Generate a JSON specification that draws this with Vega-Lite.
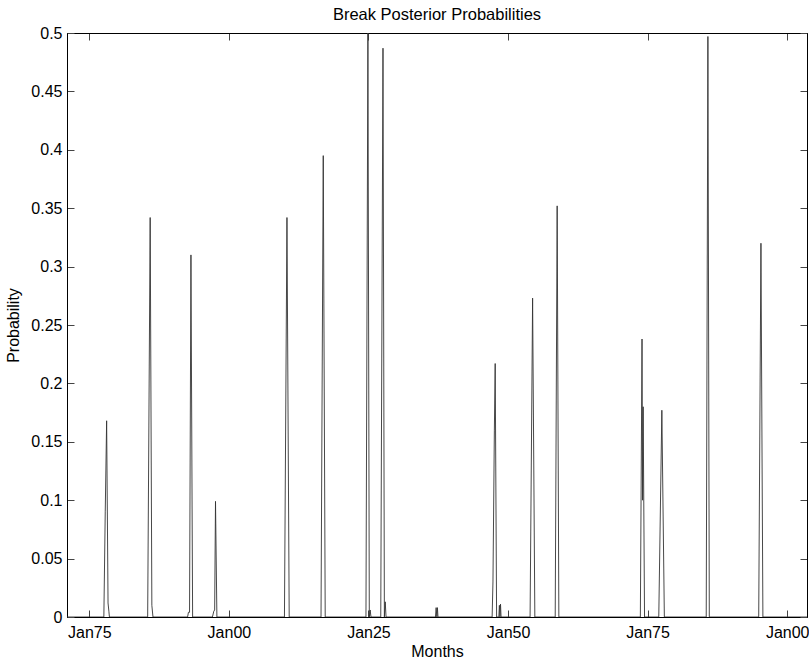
{
  "$schema": "https://vega.github.io/schema/vega-lite/v6.json",
  "width": 740,
  "height": 584,
  "autosize": {"type": "none"},
  "padding": {"left": 67, "top": 33, "right": 2, "bottom": 42},
  "background": "white",
  "title": {"text": "Break Posterior Probabilities", "font": "Liberation Sans", "fontSize": 16.5, "fontWeight": "normal", "color": "#000", "offset": 2},
  "config": {
    "view": {"stroke": "black", "strokeWidth": 1},
    "axis": {
      "domainColor": "black", "domainWidth": 1,
      "tickColor": "#444", "tickSize": -7, "tickWidth": 1,
      "grid": false,
      "labelFont": "Liberation Sans", "labelFontSize": 16, "labelColor": "black",
      "titleFont": "Liberation Sans", "titleFontSize": 16, "titleFontWeight": "normal", "titleColor": "black"
    }
  },
  "data": {"values": [
    {"year": 1871.0, "p": 0},
    {"year": 1877.6, "p": 0}, {"year": 1877.85, "p": 0.09}, {"year": 1878.1, "p": 0.168}, {"year": 1878.35, "p": 0.012}, {"year": 1878.5, "p": 0.005}, {"year": 1878.6, "p": 0},
    {"year": 1885.45, "p": 0}, {"year": 1885.9, "p": 0.342}, {"year": 1886.2, "p": 0.01}, {"year": 1886.4, "p": 0},
    {"year": 1892.6, "p": 0}, {"year": 1892.75, "p": 0.004}, {"year": 1892.95, "p": 0.004}, {"year": 1893.2, "p": 0.31}, {"year": 1893.5, "p": 0},
    {"year": 1897.05, "p": 0}, {"year": 1897.3, "p": 0.005}, {"year": 1897.45, "p": 0.006}, {"year": 1897.6, "p": 0.099}, {"year": 1897.85, "p": 0},
    {"year": 1909.95, "p": 0}, {"year": 1910.4, "p": 0.342}, {"year": 1910.8, "p": 0},
    {"year": 1916.5, "p": 0}, {"year": 1916.9, "p": 0.395}, {"year": 1917.25, "p": 0},
    {"year": 1924.55, "p": 0}, {"year": 1924.9, "p": 0.5}, {"year": 1925.15, "p": 0}, {"year": 1925.3, "p": 0.006}, {"year": 1925.45, "p": 0},
    {"year": 1927.2, "p": 0}, {"year": 1927.6, "p": 0.487}, {"year": 1927.85, "p": 0}, {"year": 1928.0, "p": 0.013}, {"year": 1928.15, "p": 0},
    {"year": 1937.0, "p": 0}, {"year": 1937.12, "p": 0.008}, {"year": 1937.25, "p": 0}, {"year": 1937.35, "p": 0.008}, {"year": 1937.45, "p": 0},
    {"year": 1947.15, "p": 0}, {"year": 1947.3, "p": 0.03}, {"year": 1947.55, "p": 0.16}, {"year": 1947.7, "p": 0.217}, {"year": 1947.95, "p": 0},
    {"year": 1948.35, "p": 0}, {"year": 1948.45, "p": 0.01}, {"year": 1948.55, "p": 0}, {"year": 1948.65, "p": 0.011}, {"year": 1948.75, "p": 0},
    {"year": 1953.95, "p": 0}, {"year": 1954.4, "p": 0.273}, {"year": 1954.8, "p": 0},
    {"year": 1958.45, "p": 0}, {"year": 1958.8, "p": 0.352}, {"year": 1959.1, "p": 0},
    {"year": 1973.7, "p": 0}, {"year": 1974.0, "p": 0.238}, {"year": 1974.1, "p": 0.1}, {"year": 1974.2, "p": 0.18}, {"year": 1974.45, "p": 0},
    {"year": 1977.0, "p": 0}, {"year": 1977.55, "p": 0.177}, {"year": 1978.0, "p": 0},
    {"year": 1985.5, "p": 0}, {"year": 1985.8, "p": 0.497}, {"year": 1986.05, "p": 0},
    {"year": 1994.9, "p": 0}, {"year": 1995.3, "p": 0.32}, {"year": 1995.65, "p": 0},
    {"year": 2003.55, "p": 0}
  ]},
  "layer": [
    {
      "mark": {"type": "line", "color": "#333", "strokeWidth": 0.9, "clip": true},
      "encoding": {
        "x": {"field": "year", "type": "quantitative",
              "scale": {"domain": [1871, 2003.55], "nice": false, "zero": false},
              "axis": {"orient": "bottom", "title": "Months", "values": [1875, 1900, 1925, 1950, 1975, 2000],
                       "format": "d", "labelExpr": "'Jan' + substring(datum.label, 2, 4)",
                       "labelPadding": 14, "titlePadding": 3}},
        "y": {"field": "p", "type": "quantitative",
              "scale": {"domain": [0, 0.5], "nice": false},
              "axis": {"orient": "left", "title": "Probability",
                       "values": [0, 0.05, 0.1, 0.15, 0.2, 0.25, 0.3, 0.35, 0.4, 0.45, 0.5],
                       "format": ".2~f", "labelPadding": 12, "titlePadding": 9}}
      }
    },
    {
      "mark": {"type": "line", "opacity": 0},
      "encoding": {
        "x": {"field": "year", "type": "quantitative",
              "axis": {"orient": "top", "title": null, "labels": false, "values": [1875, 1900, 1925, 1950, 1975, 2000]}},
        "y": {"field": "p", "type": "quantitative",
              "axis": {"orient": "right", "title": null, "labels": false,
                       "values": [0, 0.05, 0.1, 0.15, 0.2, 0.25, 0.3, 0.35, 0.4, 0.45, 0.5]}}
      }
    }
  ],
  "resolve": {"axis": {"x": "independent", "y": "independent"}}
}
